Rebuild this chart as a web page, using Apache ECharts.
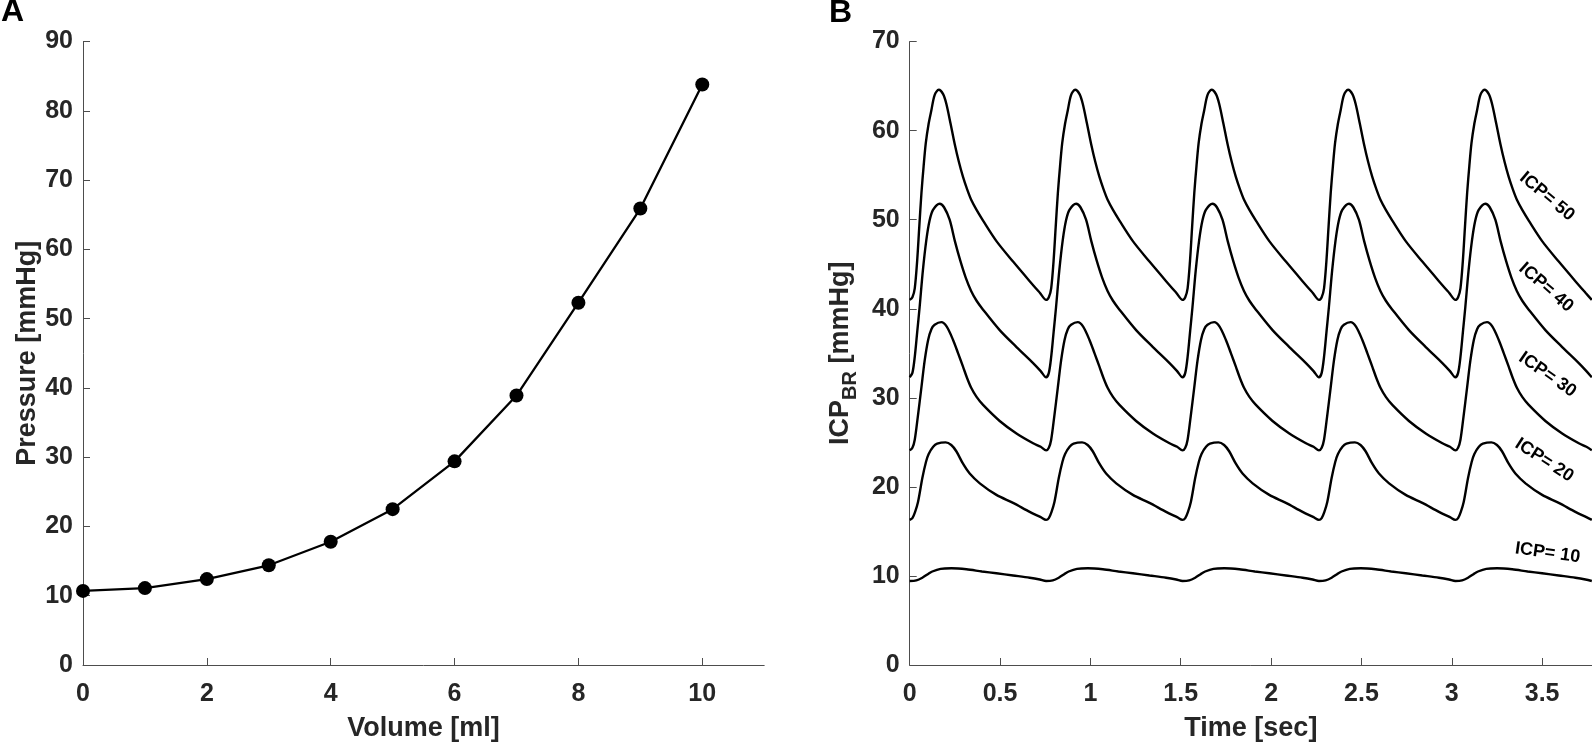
<!DOCTYPE html>
<html>
<head>
<meta charset="utf-8">
<script src="https://cdn.jsdelivr.net/npm/echarts@6/dist/echarts.min.js"></script>
<style>
html,body{margin:0;padding:0;background:#fff;}
#chart{width:1592px;height:742px;}
</style>
</head>
<body>
<div id="chart"></div>
<script>
// ---- Panel A data ----
const volume = [0, 1, 2, 3, 4, 5, 6, 7, 8, 9, 10];
const pressure = [10.7, 11.1, 12.4, 14.4, 17.8, 22.5, 29.4, 38.9, 52.3, 65.9, 83.8];
const volumeTicks = [0, 2, 4, 6, 8, 10];

// ---- Panel B data (one heart cycle per curve, [time offset s, ICP mmHg]) ----
const timeTicks = [0, 0.5, 1, 1.5, 2, 2.5, 3, 3.5];
const beatStarts = [0, 0.755, 1.51, 2.265, 3.02];
const cycleICP50 = [[0,41.0],[0.015,41.3],[0.028,42.3],[0.041,45.3],[0.053,49.2],[0.065,53.0],[0.077,56.0],[0.089,58.6],[0.105,60.8],[0.12,62.3],[0.138,64.0],[0.161,64.6],[0.185,64.1],[0.203,63.0],[0.226,60.8],[0.249,58.5],[0.272,56.5],[0.295,54.8],[0.318,53.4],[0.341,52.2],[0.37,51.1],[0.406,49.9],[0.48,47.6],[0.572,45.3],[0.664,43.1],[0.72,41.8],[0.755,41.0]];
const cycleICP40 = [[0,32.3],[0.015,32.8],[0.028,34.6],[0.042,37.5],[0.055,40.2],[0.073,44.3],[0.092,47.7],[0.11,49.9],[0.129,51.1],[0.166,51.8],[0.19,51.4],[0.221,50.0],[0.25,47.6],[0.28,45.4],[0.31,43.5],[0.34,42.0],[0.37,40.9],[0.406,39.9],[0.498,37.6],[0.591,35.7],[0.683,33.9],[0.725,33.0],[0.755,32.3]];
const cycleICP30 = [[0,24.1],[0.015,24.4],[0.028,25.3],[0.045,27.9],[0.065,31.2],[0.083,34.2],[0.102,36.5],[0.12,37.7],[0.138,38.2],[0.175,38.5],[0.205,38.0],[0.24,36.5],[0.268,35.0],[0.295,33.5],[0.318,32.2],[0.341,31.1],[0.37,30.1],[0.406,29.2],[0.498,27.4],[0.591,26.0],[0.683,24.9],[0.725,24.5],[0.755,24.1]];
const cycleICP20 = [[0,16.3],[0.015,16.5],[0.03,17.2],[0.046,18.3],[0.07,21.0],[0.09,22.8],[0.105,23.7],[0.13,24.5],[0.152,24.85],[0.199,25.0],[0.23,24.7],[0.258,24.0],[0.295,22.6],[0.332,21.5],[0.388,20.4],[0.48,19.1],[0.572,18.2],[0.664,17.2],[0.725,16.6],[0.755,16.3]];
const cycleICP10 = [[0,9.43],[0.037,9.5],[0.07,9.8],[0.1,10.2],[0.125,10.5],[0.171,10.8],[0.231,10.86],[0.314,10.75],[0.4,10.5],[0.48,10.3],[0.572,10.05],[0.664,9.8],[0.72,9.6],[0.755,9.43]];
const icpCycles = [cycleICP50, cycleICP40, cycleICP30, cycleICP20, cycleICP10];
const icpLabels = ['ICP= 50', 'ICP= 40', 'ICP= 30', 'ICP= 20', 'ICP= 10'];
const labelAnchors = [[3.527, 52.6], [3.522, 42.4], [3.53, 32.6], [3.512, 23.0], [3.53, 12.6]];
const labelAngles = [-40, -41, -35, -33, -8];

const FONT = '"Liberation Sans", Arial, Helvetica, sans-serif';
const AXIS_COLOR = '#4d4d4d';
const TEXT_COLOR = '#262626';

function buildSeries(cycle) {
  const out = [];
  beatStarts.forEach((b, i) => {
    cycle.forEach((p, j) => {
      if (i > 0 && j === 0) return;
      out.push([+(b + p[0]).toFixed(4), p[1]]);
    });
  });
  return out;
}

const axisCommon = {
  axisLine: { show: true, lineStyle: { color: AXIS_COLOR, width: 1 } },
  axisTick: { show: true, inside: true, length: 7, lineStyle: { color: AXIS_COLOR, width: 1 } },
  splitLine: { show: false },
  nameTextStyle: { color: TEXT_COLOR, fontSize: 27, fontWeight: 'bold', fontFamily: FONT }
};
const labelCommon = { color: TEXT_COLOR, fontSize: 25, fontWeight: 'bold', fontFamily: FONT };

const chart = echarts.init(document.getElementById('chart'), null, { renderer: 'canvas' });

const option = {
  animation: false,
  backgroundColor: '#fff',
  textStyle: { fontFamily: FONT },
  grid: [
    { left: 83, top: 41.6, width: 681.2, height: 623.4, containLabel: false, outerBoundsMode: 'none' },
    { left: 909.7, top: 41.6, width: 682.3, height: 623.4, containLabel: false, outerBoundsMode: 'none' }
  ],
  xAxis: [
    Object.assign({}, axisCommon, {
      gridIndex: 0, type: 'value', min: 0, max: 11,
      name: 'Volume [ml]', nameLocation: 'middle', nameGap: 50,
      axisTick: Object.assign({}, axisCommon.axisTick, { customValues: volumeTicks }),
      axisLabel: Object.assign({}, labelCommon, { margin: 17, customValues: volumeTicks })
    }),
    Object.assign({}, axisCommon, {
      gridIndex: 1, type: 'value', min: 0, max: 3.776,
      name: 'Time [sec]', nameLocation: 'middle', nameGap: 50,
      axisTick: Object.assign({}, axisCommon.axisTick, { customValues: timeTicks }),
      axisLabel: Object.assign({}, labelCommon, { margin: 17, customValues: timeTicks })
    })
  ],
  yAxis: [
    Object.assign({}, axisCommon, {
      gridIndex: 0, type: 'value', min: 0, max: 90, interval: 10,
      name: 'Pressure [mmHg]', nameLocation: 'middle', nameGap: 42,
      axisLabel: Object.assign({}, labelCommon, { margin: 10 })
    }),
    Object.assign({}, axisCommon, {
      gridIndex: 1, type: 'value', min: 0, max: 70, interval: 10,
      name: '{a|ICP}{b|BR}{a| [mmHg]}', nameLocation: 'middle', nameGap: 49,
      nameTextStyle: {
        rich: {
          a: { color: TEXT_COLOR, fontSize: 27, fontWeight: 'bold', fontFamily: FONT, lineHeight: 34, verticalAlign: 'top' },
          b: { color: TEXT_COLOR, fontSize: 20, fontWeight: 'bold', fontFamily: FONT, lineHeight: 34, verticalAlign: 'bottom', padding: [12, 0, 0, 0] }
        }
      },
      axisLabel: Object.assign({}, labelCommon, { margin: 10 })
    })
  ],
  graphic: [
    { type: 'text', left: 1, top: -4, style: { text: 'A', fill: '#000', font: 'bold 32px ' + FONT } },
    { type: 'text', left: 829, top: -3, style: { text: 'B', fill: '#000', font: 'bold 32px ' + FONT } }
  ],
  series: [
    {
      type: 'line', xAxisIndex: 0, yAxisIndex: 0,
      data: volume.map((v, i) => [v, pressure[i]]),
      symbol: 'circle', symbolSize: 14,
      itemStyle: { color: '#000' },
      lineStyle: { color: '#000', width: 2.3 },
      clip: false
    }
  ].concat(icpCycles.map((cyc, k) => ({
    type: 'line', xAxisIndex: 1, yAxisIndex: 1,
    data: buildSeries(cyc),
    showSymbol: false, symbol: 'none',
    smooth: 0.3,
    lineStyle: { color: '#000', width: 2.4 },
    markPoint: {
      symbol: 'circle', symbolSize: 0,
      data: [{ coord: labelAnchors[k] }],
      label: {
        show: true, position: 'inside', formatter: icpLabels[k],
        rotate: labelAngles[k], color: '#000', fontSize: 18, fontWeight: 'bold', fontFamily: FONT
      }
    }
  })))
};
chart.setOption(option);
</script>
</body>
</html>
